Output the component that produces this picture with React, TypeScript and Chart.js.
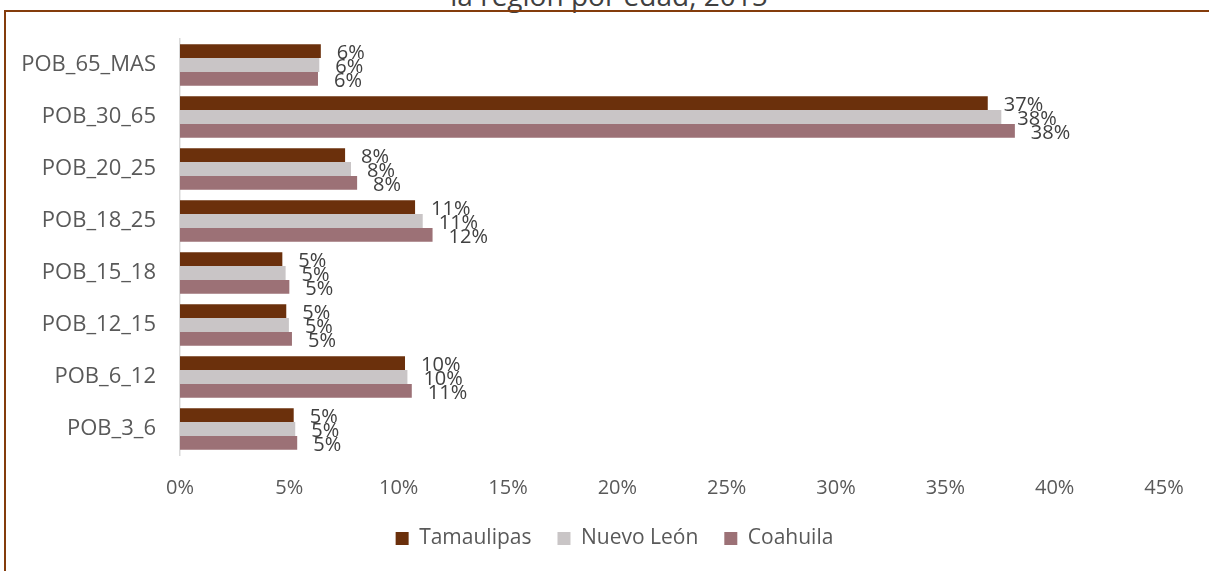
import React, { useEffect, useRef } from "react";
import { Chart, registerables } from "chart.js";

Chart.register(...registerables);

const categories = [
  "POB_65_MAS",
  "POB_30_65",
  "POB_20_25",
  "POB_18_25",
  "POB_15_18",
  "POB_12_15",
  "POB_6_12",
  "POB_3_6",
];
const tamaulipas = [6.44, 36.94, 7.55, 10.75, 4.68, 4.86, 10.29, 5.2];
const nuevoLeon = [6.37, 37.56, 7.82, 11.1, 4.83, 4.98, 10.4, 5.27];
const coahuila = [6.31, 38.18, 8.1, 11.55, 5.0, 5.12, 10.6, 5.36];
const seriesNames = ["Tamaulipas", "Nuevo León", "Coahuila"];
const seriesColors = ["#6B300C", "#C9C5C6", "#9C7176"];
const xTicks = [0, 5, 10, 15, 20, 25, 30, 35, 40, 45];
const titleText = "la región por edad, 2015";

const FONT = "'Open Sans', 'DejaVu Sans', sans-serif";

const dataLabelPlugin = {
  id: "dataLabels",
  afterDatasetsDraw(chart: any) {
    const ctx = chart.ctx;
    ctx.save();
    ctx.font = `20px ${FONT}`;
    ctx.fillStyle = "#404040";
    ctx.textAlign = "left";
    ctx.textBaseline = "middle";
    chart.data.datasets.forEach((ds: any, di: number) => {
      const meta = chart.getDatasetMeta(di);
      if (meta.hidden) return;
      meta.data.forEach((bar: any, i: number) => {
        const v = ds.data[i];
        ctx.fillText(Math.round(v) + "%", bar.x + 16, bar.y + 2);
      });
    });
    ctx.restore();
  },
};

export default function App() {
  const canvasRef = useRef<HTMLCanvasElement | null>(null);

  useEffect(() => {
    document.body.style.margin = "0";
    const canvas = canvasRef.current;
    if (!canvas) return;
    const chart = new Chart(canvas, {
      type: "bar",
      data: {
        labels: categories,
        datasets: [tamaulipas, nuevoLeon, coahuila].map((d, i) => ({
          label: seriesNames[i],
          data: d,
          backgroundColor: seriesColors[i],
          borderWidth: 0,
          categoryPercentage: 0.8,
          barPercentage: 1.0,
        })),
      },
      options: {
        indexAxis: "y",
        animation: false,
        responsive: false,
        maintainAspectRatio: false,
        layout: { padding: { left: 20, right: 0, top: 39, bottom: 12 } },
        font: { family: FONT },
        scales: {
          x: {
            type: "linear",
            min: 0,
            max: 45,
            afterBuildTicks(scale: any) {
              scale.ticks = xTicks.map((v) => ({ value: v }));
            },
            afterFit(scale: any) {
              scale.height = 47;
            },
            ticks: {
              callback: (v: any) => v + "%",
              color: "#595959",
              font: { size: 20, family: FONT },
              padding: 21,
              maxRotation: 0,
            },
            grid: { display: false, drawTicks: false },
            border: { display: false },
          },
          y: {
            type: "category",
            position: "left",
            afterFit(scale: any) {
              scale.width = 160;
            },
            ticks: {
              color: "#595959",
              font: { size: 22, family: FONT },
              padding: 24,
            },
            grid: { display: false, drawTicks: false },
            border: { display: true, color: "#D9D9D9", width: 1.5 },
          },
          y2: {
            type: "category",
            position: "right",
            labels: categories,
            afterFit(scale: any) {
              scale.width = 45;
            },
            ticks: { display: false },
            grid: { display: false, drawTicks: false },
            border: { display: false },
          },
        },
        plugins: {
          legend: {
            position: "bottom",
            labels: {
              boxWidth: 13,
              boxHeight: 13,
              padding: 26,
              color: "#595959",
              font: { size: 21, family: FONT },
            },
          },
          tooltip: { enabled: false },
          title: { display: false },
        },
      } as any,
      plugins: [dataLabelPlugin],
    });
    return () => chart.destroy();
  }, []);

  return (
    <div
      style={{
        position: "relative",
        width: 1209,
        height: 571,
        overflow: "hidden",
        background: "#FFFFFF",
        fontFamily: FONT,
      }}
    >
      <div
        style={{
          position: "absolute",
          left: 0,
          top: -19,
          width: 1218,
          textAlign: "center",
          fontSize: 28,
          lineHeight: "28px",
          color: "#404040",
          whiteSpace: "nowrap",
        }}
      >
        {titleText}
      </div>
      <div
        style={{
          position: "absolute",
          left: 4,
          top: 10,
          width: 1400,
          height: 700,
          borderLeft: "2px solid #843C0C",
          borderTop: "2px solid #843C0C",
          boxSizing: "border-box",
        }}
      />
      <canvas
        ref={canvasRef}
        width={1209}
        height={571}
        style={{ position: "absolute", left: 0, top: 0, width: 1209, height: 571 }}
      />
    </div>
  );
}
